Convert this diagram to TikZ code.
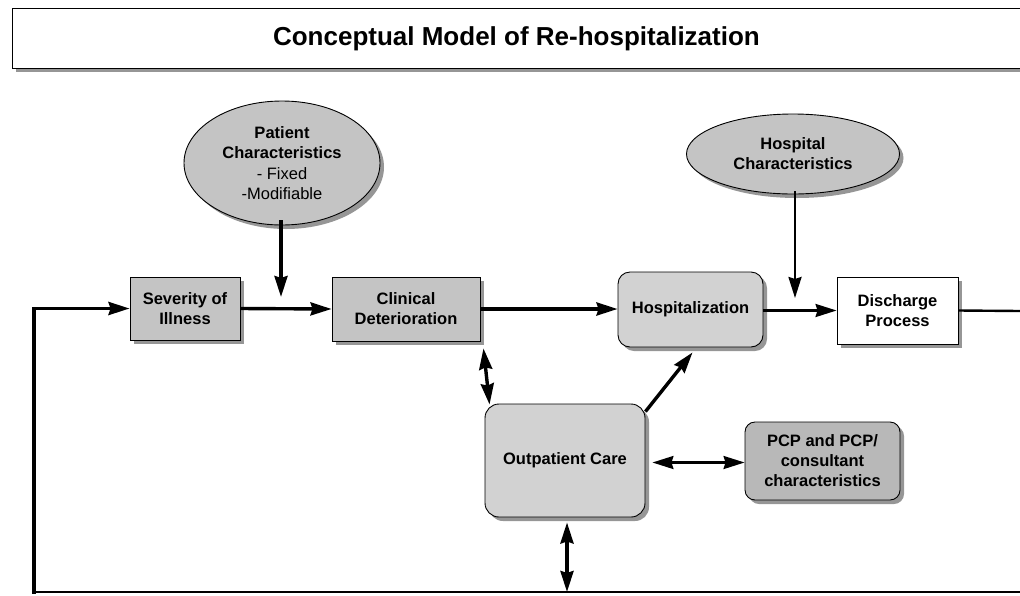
\documentclass[tikz,border=0pt]{standalone}
\usepackage{fontspec}
\setmainfont{Liberation Sans}
\usetikzlibrary{shapes.geometric,shadows,arrows.meta,calc}
\definecolor{boxgray}{RGB}{196,196,196}
\definecolor{roundgray}{RGB}{210,210,210}
\definecolor{darkgray2}{RGB}{184,184,184}
\definecolor{shadowgray}{RGB}{150,150,150}
\begin{document}
\begin{tikzpicture}[x=1pt,y=-1pt,
  every node/.style={font=\fontsize{16.5}{20}\selectfont\bfseries, align=center, inner sep=0pt},
  shad/.style={drop shadow={shadow xshift=4pt, shadow yshift=-4pt, fill=shadowgray, opacity=1}},
  sqbox/.style={draw=black, line width=0.9pt, fill=boxgray, shad},
  rbox/.style={draw=black, line width=0.9pt, fill=roundgray, rounded corners=12pt, shad},
  ell/.style={ellipse, draw=black, line width=0.9pt, fill=boxgray, shad},
  tip/.style={-{Stealth[length=21pt,width=13pt,inset=2pt]}},
  dtip/.style={{Stealth[length=21pt,width=13pt,inset=2pt]}-{Stealth[length=21pt,width=13pt,inset=2pt]}},
  thick2/.style={line width=3.4pt},
  thin2/.style={line width=2.4pt}]
\useasboundingbox (0,0) rectangle (1020,595);
% title
\node[draw=black, line width=0.9pt, fill=white, shad, minimum width=1020pt, minimum height=60pt, anchor=north west,
      font=\fontsize{26}{30}\selectfont\bfseries] (title) at (12,8) {\hspace*{-12pt}Conceptual Model of Re-hospitalization};
% ellipses
\node[ell, minimum width=196pt, minimum height=124pt, font=\fontsize{16.5}{20.5}\selectfont] (pat) at (282,163)
  {\textbf{Patient}\\ \textbf{Characteristics}\\ \mdseries - Fixed\\ \mdseries -Modifiable};
\node[ell, minimum width=213pt, minimum height=80pt] (hch) at (793,154) {Hospital\\Characteristics};
% boxes
\node[sqbox, minimum width=110pt, minimum height=63pt] (sev) at (185,308.5) {Severity of\\Illness};
\node[sqbox, minimum width=148pt, minimum height=64pt] (clin) at (406,309) {Clinical\\Deterioration};
\node[rbox, minimum width=145pt, minimum height=75pt] (hosp) at (690.5,309.5) {Hospitalization};
\node[draw=black, line width=0.9pt, fill=white, shad, minimum width=121pt, minimum height=67pt] (dis) at (897.5,310.5) {Discharge\\Process};
\node[rbox, rounded corners=14pt, minimum width=160pt, minimum height=113pt] (op) at (565,460.5) {Outpatient Care};
\node[rbox, fill=darkgray2, rounded corners=10pt, minimum width=155pt, minimum height=78pt] (pcp) at (822.5,461) {PCP and PCP/\\consultant\\characteristics};
% coordinates
\coordinate (patEnd) at (281,297);
\coordinate (hchEnd) at (795,298);
\coordinate (rEnd) at (1020,311);
\coordinate (blL) at (34,592);
\coordinate (blR) at (1020,592);
% connectors
\draw[thick2, tip] ([yshift=5pt]pat.south -| patEnd) -- (patEnd);
\draw[thin2, tip] ([yshift=3pt]hch.south -| hchEnd) -- (hchEnd);
\draw[thick2, tip] (sev.east) -- (clin.west);
\draw[thick2, tip] (clin.east) -- (hosp.west |- clin.east);
\draw[thin2, tip] (hosp.east |- dis.west) -- (dis.west);
\draw[thin2] (dis.east) -- (rEnd);
\draw[thick2, dtip] ($(clin.south east)+(3,7)$) -- ($(op.north west)+(5,1)$);
\draw[thick2, tip] ($(op.north east)+(0,8)$) -- ($(hosp.south)+(2,5)$);
\draw[thin2, dtip] ($(op.east)+(7,2)$) -- (pcp.west |- {$(op.east)+(7,2)$});
\draw[thick2, dtip] ($(op.south)+(2,5)$) -- ($(op.south |- blL)+(2,0)$);
\draw[thin2] (blL) -- (blR);
\draw[thick2, tip, line cap=rect] (blL) |- (sev.west);
\end{tikzpicture}
\end{document}
